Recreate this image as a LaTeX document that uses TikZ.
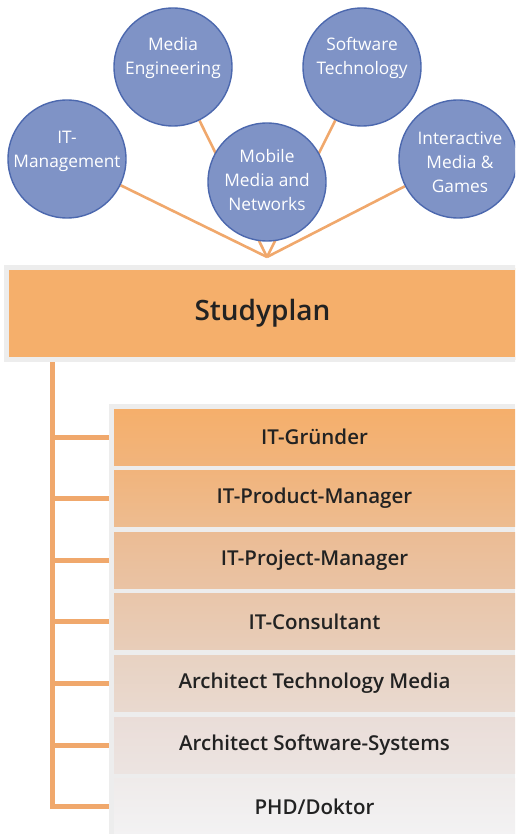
\documentclass[tikz,border=0pt]{standalone}
\usepackage{fontspec}
\setmainfont{Open Sans}
\newfontfamily\semibold{Open Sans Semibold}
\usetikzlibrary{backgrounds}
\definecolor{circlefill}{HTML}{7F93C6}
\definecolor{circleline}{HTML}{4C68AE}
\definecolor{linkorange}{HTML}{F0A86C}
\definecolor{planorange}{HTML}{F5AF6B}
\definecolor{panelgray}{HTML}{EDEDED}
\definecolor{textdark}{HTML}{222222}

\tikzset{
    topic/.style = {circle, fill = circlefill, draw = circleline, line width = 1.4pt, minimum size = 118pt, inner sep = 0pt},
    topictext/.style = {text = white, align = center, font = \fontsize{17.3}{24}\selectfont},
    link/.style = {draw = linkorange, line width = 2.6pt},
    tree/.style = {draw = linkorange, line width = 5pt},
    jobbox/.style = {rectangle, minimum width = 401pt, minimum height = 56pt, inner sep = 0pt, text = textdark, font = \semibold\fontsize{20.5}{24}\selectfont}
}

\begin{document}
\begin{tikzpicture}[x = 1pt, y = -1pt]

        \useasboundingbox (0, 0) rectangle (515, 834);
        \clip (0, 0) rectangle (515, 834);

        % Topics
        \node [topic] (itm) at (67, 159) {};
        \node [topic] (me) at (173, 67) {};
        \node [topic] (st) at (362, 67) {};
        \node [topic] (mmn) at (267, 182) {};
        \node [topic] (img) at (458, 159) {};

        \node [topictext] (itmtext) at ([yshift = 8pt] itm.center) {IT-\\Management};
        \node [topictext] (metext) at ([yshift = 9pt] me.center) {Media\\Engineering};
        \node [topictext] (sttext) at ([yshift = 9pt] st.center) {Software\\Technology};
        \node [topictext] (mmntext) at ([yshift = 2pt] mmn.center) {Mobile\\Media and\\Networks};
        \node [topictext] (imgtext) at ([xshift = 2pt, yshift = -3pt] img.center) {Interactive\\Media \&\\Games};

        \coordinate (hub) at (267, 257);

        % Studyplan
        \node [rectangle, fill = planorange, draw = panelgray, line width = 5pt, minimum width = 512pt, minimum height = 92pt, inner sep = 0pt, text = textdark, font = \semibold\fontsize{28}{32}\selectfont] (plan) at (262.5, 313.5) {Studyplan};

        % Jobs
        \node [rectangle, fill = panelgray, minimum width = 406pt, minimum height = 430pt, inner sep = 0pt] (panel) at (312, 619) {};

        \foreach \job/\ct/\cb [count = \i from 0] in {IT-Gründer/F5AF6B/F1B47C, IT-Product-Manager/F1B47C/EDBC90, IT-Project-Manager/EBBC94/EAC3A4, IT-Consultant/E9C6AA/E8CDB9, Architect Technology Media/E8D2C2/E9D9CF, Architect Software-Systems/EADDD8/ECE4E1, {PHD/Doktor}/EFEBEA/F3F2F3} {
            \definecolor{boxtop}{HTML}{\ct}
            \definecolor{boxbottom}{HTML}{\cb}
            \node [jobbox, top color = boxtop, bottom color = boxbottom] (job\i) at (314.5, 437 + 61.6 * \i) {\job};
        }

        \coordinate (stem) at (52, 362);

        \begin{scope}[on background layer]
            \draw [link] (itm) -- (hub);
            \draw [link] (me) -- (hub);
            \draw [link] (st) -- (hub);
            \draw [link] (img) -- (hub);

            \draw [tree] (stem) |- (job6.west -| panel.west);
            \foreach \i in {0, ..., 5}
                \draw [tree] (job\i.west -| stem) -- (job\i.west -| panel.west);
        \end{scope}

    \end{tikzpicture}
\end{document}
